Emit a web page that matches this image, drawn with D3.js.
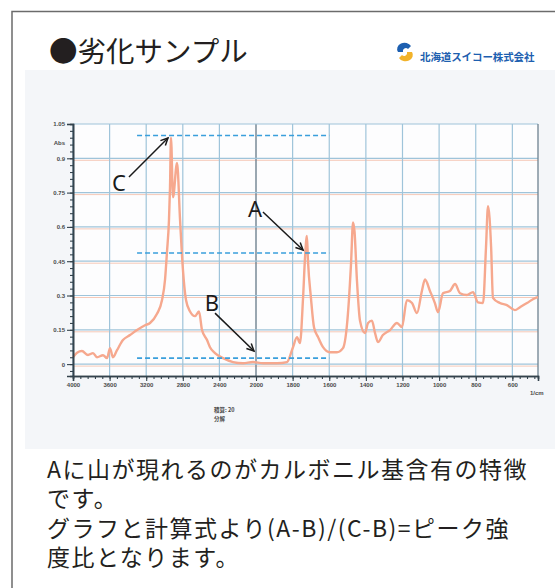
<!DOCTYPE html>
<html>
<head>
<meta charset="utf-8">
<script src="https://cdn.jsdelivr.net/npm/d3@7"></script>
<style>
body { margin: 0; background: #fff; }
svg { display: block; font-family: "Noto Sans CJK JP", "Noto Sans", sans-serif; }
</style>
</head>
<body>
<div id="chart"></div>
<script>
// spectrum (cm-1 / Abs)
var wavenumbers = [4000, 3956, 3902, 3836, 3781, 3738, 3672, 3628, 3596, 3563, 3519, 3454, 3377, 3300, 3213, 3158,
    3082, 3027, 2994, 2973, 2951, 2940, 2929, 2907, 2863, 2830, 2798, 2765, 2721, 2667, 2623, 2590, 2535, 2503,
    2448, 2360, 2251, 2142, 2033, 1962, 1885, 1831, 1798, 1776, 1760, 1743, 1732, 1722, 1716, 1700, 1683, 1661,
    1634, 1596, 1558, 1525, 1498, 1481, 1470, 1462, 1449, 1432, 1405, 1388, 1367, 1350, 1334, 1307, 1268, 1230,
    1203, 1176, 1148, 1121, 1094, 1077, 1050, 1023, 1006, 979, 941, 913, 886, 848, 815, 788, 760, 744, 733, 716,
    706, 668, 630, 586, 558, 520, 476, 460]
var absorbance = [0.03, 0.05, 0.057, 0.04, 0.048, 0.03, 0.039, 0.026, 0.07, 0.03, 0.061, 0.105, 0.127, 0.149, 0.17, 0.18,
    0.22, 0.28, 0.37, 0.49, 0.63, 0.77, 0.99, 0.73, 0.88, 0.63, 0.41, 0.28, 0.23, 0.21, 0.23, 0.149, 0.105, 0.074,
    0.048, 0.026, 0.009, 0.004, 0.009, 0.004, 0.004, 0.009, 0.074, 0.118, 0.092, 0.29, 0.47, 0.56, 0.45, 0.29, 0.16, 0.118,
    0.074, 0.052, 0.052, 0.07, 0.22, 0.44, 0.62, 0.58, 0.37, 0.19, 0.136, 0.18, 0.19, 0.136, 0.096, 0.127, 0.149, 0.18,
    0.162, 0.28, 0.267, 0.223, 0.32, 0.37, 0.32, 0.267, 0.227, 0.31, 0.32, 0.35, 0.31, 0.302, 0.315, 0.27, 0.267, 0.51, 0.69, 0.51,
    0.29, 0.267, 0.258, 0.236, 0.249, 0.267, 0.289, 0.293]

var xTicks = [4000, 3600, 3200, 2800, 2400, 2000, 1800, 1600, 1400, 1200, 1000, 800, 600]
var yTicks = [0, 0.15, 0.3, 0.45, 0.6, 0.75, 0.9, 1.05]
var yTickLabels = ["0", "0.15", "0.3", "0.45", "0.6", "0.75", "0.9", "1.05"]

// dashed reference levels and arrows
var refNames = ["C", "A", "B"]
var refLevels = [1.0, 0.486, 0.026]
var refRange = [3300, 1600]
var labelPos = [[3497, 0.796], [2011, 0.682], [2481, 0.271]]
var arrowFrom = [[3388, 0.818], [1962, 0.665], [2448, 0.223]]
var arrowTo = [[2962, 0.989], [1743, 0.499], [2022, 0.057]]

var title = "●劣化サンプル"
var company = "北海道スイコー株式会社"
var bodyLines = [
    "Aに山が現れるのがカルボニル基含有の特徴",
    "です。",
    "グラフと計算式より(A-B)/(C-B)=ピーク強",
    "度比となります。"
]

var W = 555, H = 588
var svg = d3.select("#chart").append("svg")
    .attr("width", W)
    .attr("height", H)

var defs = svg.append("defs")
defs.append("filter").attr("id", "soft")
    .append("feGaussianBlur").attr("stdDeviation", 0.45)

// frame
svg.append("path")
    .attr("d", "M12," + H + "V11.5H" + W)
    .attr("fill", "none")
    .attr("stroke", "#6b6b6b")
    .attr("stroke-width", 1.5)

svg.append("rect")
    .attr("x", 25).attr("y", 70)
    .attr("width", W - 25).attr("height", 379)
    .attr("fill", "#f4f6f9")

svg.append("text")
    .attr("x", 49).attr("y", 62)
    .attr("font-size", 28.5)
    .attr("fill", "#231f20")
    .text(title)

// logo
var logo = svg.append("g").attr("transform", "translate(405,52)")
logo.append("path")
    .attr("d", "M6,-6 A7,6 0 1 0 -7,0 L-2,0 A3,3 0 0 1 3,-3 Z")
    .attr("fill", "#1d5fb0")
logo.append("path")
    .attr("d", "M-6,6 A7,6 0 0 0 7,0 L2,0 A3,3 0 0 1 -3,3 Z")
    .attr("fill", "#f2b32a")
svg.append("text")
    .attr("x", 420).attr("y", 61)
    .attr("font-size", 10.5)
    .attr("font-weight", "bold")
    .attr("fill", "#1d5fb0")
    .attr("letter-spacing", -0.1)
    .text(company)

// chart
var x = d3.scaleLinear()
    .domain([4000, 2000, 460])
    .range([73, 256, 538])
var y = d3.scaleLinear()
    .domain([-0.052, 1.05])
    .range([376, 124])

var plot = svg.append("g")

plot.append("rect")
    .attr("x", x(4000)).attr("y", y(1.05))
    .attr("width", x(460) - x(4000)).attr("height", y(-0.052) - y(1.05))
    .attr("fill", "#fdfdfe")

// misregistered salmon copy of the grid, like the scan
plot.append("g").selectAll("line")
    .data(yTicks.slice(0, -1))
    .enter().append("line")
    .attr("x1", x(4000)).attr("x2", x(460))
    .attr("y1", d => y(d) + 2).attr("y2", d => y(d) + 2)
    .attr("stroke", "#f6c9b8").attr("stroke-width", 1)

plot.append("g").selectAll("line")
    .data(xTicks)
    .enter().append("line")
    .attr("x1", d => x(d)).attr("x2", d => x(d))
    .attr("y1", y(1.05)).attr("y2", y(-0.052))
    .attr("stroke", d => d == 2000 ? "#6f8290" : "#9fc4da")
    .attr("stroke-width", d => d == 2000 ? 1.4 : 1.2)

plot.append("g").selectAll("line")
    .data(yTicks)
    .enter().append("line")
    .attr("x1", x(4000)).attr("x2", x(460))
    .attr("y1", d => y(d)).attr("y2", d => y(d))
    .attr("stroke", "#9fc4da").attr("stroke-width", 1.2)

plot.append("line")
    .attr("x1", x(460)).attr("x2", x(460))
    .attr("y1", y(1.05)).attr("y2", y(-0.052))
    .attr("stroke", "#6f8290").attr("stroke-width", 1.3)

// spectrum
var points = wavenumbers.map((w, i) => [w, absorbance[i]])
var line = d3.line()
    .x(d => x(d[0]))
    .y(d => y(d[1]))
    .curve(d3.curveMonotoneX)

plot.append("path")
    .datum(points)
    .attr("d", line)
    .attr("fill", "none")
    .attr("stroke", "#f6a88e")
    .attr("stroke-width", 2.4)
    .attr("stroke-linejoin", "round")
    .attr("filter", "url(#soft)")

// axes
var yAxis = d3.axisLeft(y)
    .tickValues(yTicks)
    .tickFormat((d, i) => yTickLabels[i])
    .tickSize(6)
    .tickPadding(2)
var yMinor = d3.axisLeft(y)
    .tickValues(d3.range(-0.03, 1.06, 0.03))
    .tickFormat("")
    .tickSize(3)
var xMinorVals = d3.range(4000, 2000, -80).concat(d3.range(2000, 459, -40))
var xAxis = d3.axisBottom(x)
    .tickValues(xTicks)
    .tickFormat(d3.format("d"))
    .tickSize(5)
    .tickPadding(2)
var xMinor = d3.axisBottom(x)
    .tickValues(xMinorVals)
    .tickFormat("")
    .tickSize(3)

function styleAxis(g) {
    g.select(".domain").attr("stroke", "#34434d").attr("stroke-width", 1.6)
    g.selectAll(".tick line").attr("stroke", "#34434d").attr("stroke-width", 1.1)
    g.selectAll(".tick text")
        .attr("font-size", 6)
        .attr("font-weight", "bold")
        .attr("fill", "#4a4a4a")
        .attr("font-family", "Liberation Sans, sans-serif")
}

plot.append("g").attr("transform", "translate(" + x(4000) + ",0)").call(yMinor).call(styleAxis)
plot.append("g").attr("transform", "translate(" + x(4000) + ",0)").call(yAxis).call(styleAxis)
plot.append("g").attr("transform", "translate(0," + y(-0.052) + ")").call(xMinor).call(styleAxis)
plot.append("g").attr("transform", "translate(0," + y(-0.052) + ")").call(xAxis).call(styleAxis)

function smallText(tx, ty, s, anchor) {
    plot.append("text").attr("x", tx).attr("y", ty)
        .attr("text-anchor", anchor || "start")
        .attr("font-size", 6).attr("font-weight", "bold").attr("fill", "#4a4a4a")
        .attr("font-family", "Liberation Sans, sans-serif")
        .text(s)
}
smallText(x(4000) - 8, y(0.967) + 2, "Abs", "end")
smallText(x(460) - 8, y(-0.052) + 19, "1/cm")
plot.append("text").attr("x", 214).attr("y", 412).attr("font-size", 5.5).attr("font-weight", "bold")
    .attr("fill", "#4a4a4a").text("積算: 20")
plot.append("text").attr("x", 214).attr("y", 421).attr("font-size", 5.5).attr("font-weight", "bold")
    .attr("fill", "#4a4a4a").text("分解")

// reference dashed lines
plot.append("g").selectAll("line")
    .data(refLevels)
    .enter().append("line")
    .attr("x1", x(refRange[0])).attr("x2", x(refRange[1]))
    .attr("y1", d => y(d)).attr("y2", d => y(d))
    .attr("stroke", "#3a9fdc")
    .attr("stroke-width", 1.6)
    .attr("stroke-dasharray", "5,3")

// arrows
var arrows = plot.append("g")
arrowFrom.forEach(function (f, i) {
    var x1 = x(f[0]), y1 = y(f[1]), x2 = x(arrowTo[i][0]), y2 = y(arrowTo[i][1])
    var ang = Math.atan2(y2 - y1, x2 - x1), L = 8, spread = 0.45
    arrows.append("line")
        .attr("x1", x1).attr("y1", y1).attr("x2", x2).attr("y2", y2)
        .attr("stroke", "#1a1a1a").attr("stroke-width", 1.5)
    arrows.append("path")
        .attr("d", "M" + (x2 - L * Math.cos(ang - spread)) + "," + (y2 - L * Math.sin(ang - spread)) +
            "L" + x2 + "," + y2 +
            "L" + (x2 - L * Math.cos(ang + spread)) + "," + (y2 - L * Math.sin(ang + spread)))
        .attr("fill", "none").attr("stroke", "#1a1a1a").attr("stroke-width", 1.5)
    arrows.append("text")
        .attr("x", x(labelPos[i][0])).attr("y", y(labelPos[i][1]))
        .attr("text-anchor", "middle")
        .attr("dominant-baseline", "central")
        .attr("font-size", 22)
        .attr("fill", "#1a1a1a")
        .attr("font-family", "Noto Sans, sans-serif")
        .text(refNames[i])
})

// body text
svg.append("g").selectAll("text")
    .data(bodyLines)
    .enter().append("text")
    .attr("x", 47)
    .attr("y", (d, i) => 478 + i * 29.3)
    .attr("font-size", 23)
    .attr("letter-spacing", 1.5)
    .attr("fill", "#231f20")
    .text(d => d)
</script>
</body>
</html>
